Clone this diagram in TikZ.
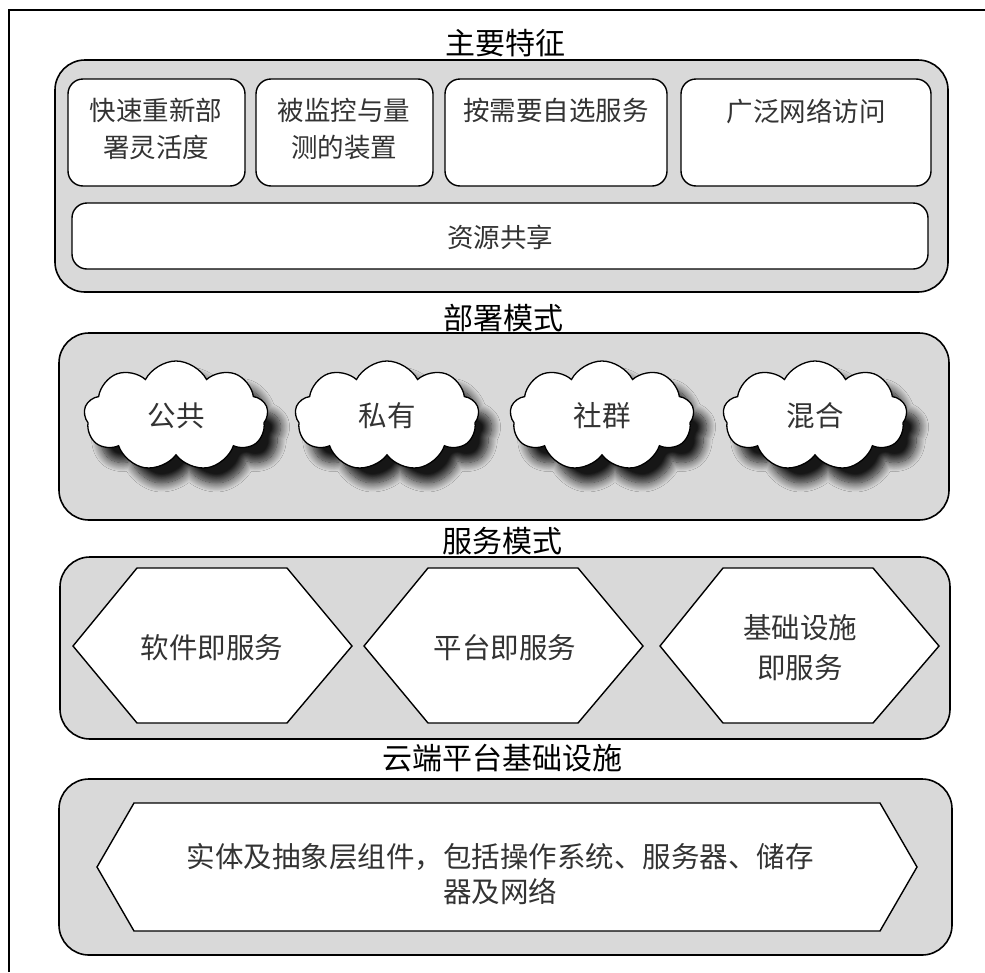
\documentclass[tikz,border=0pt]{standalone}
\usepackage{fontspec}
\setmainfont{Noto Sans CJK SC}
\usetikzlibrary{shapes.symbols,shadows.blur}
\definecolor{boxgray}{HTML}{D9D9D9}
\definecolor{txtgray}{HTML}{333333}
\tikzset{
  bigbox/.style={draw, line width=1.6pt, fill=boxgray, rounded corners=30pt, inner sep=0pt, outer sep=0pt, anchor=north west},
  smallbox/.style={draw, line width=1.4pt, fill=white, rounded corners=15pt, inner sep=0pt, outer sep=0pt, anchor=north west},
  title/.style={font=\fontsize{30pt}{34pt}\selectfont, text=black, inner sep=0pt},
  label/.style={font=\fontsize{26.5pt}{37pt}\selectfont, text=txtgray, inner sep=0pt, align=center},
  biglabel/.style={font=\fontsize{28.5pt}{40pt}\selectfont, text=txtgray, inner sep=0pt, align=center},
  cloudy/.style={cloud, draw, line width=1.3pt, fill=white, cloud puffs=9, cloud puff arc=125, aspect=1.7,
    minimum width=184pt, minimum height=110pt, inner sep=0pt,
    font=\fontsize{28.5pt}{32pt}\selectfont, text=txtgray,
    blur shadow={shadow xshift=13pt, shadow yshift=-15pt, shadow blur radius=9pt, shadow opacity=90, shadow blur steps=14}},
  hexa/.style={draw, line width=1.4pt, fill=white, line join=miter}
}
\begin{document}
\begin{tikzpicture}[x=1pt,y=-1pt]
\useasboundingbox (0,0) rectangle (985,972);
% outer frame
\draw[line width=1.5pt] (9,972) -- (9,10) -- (985,10);

% ---- main features
\node[title] (t1) at (505,43) {主要特征};
\node[bigbox, minimum width=893pt, minimum height=232pt] (b1) at (55,60) {};
\node[smallbox, minimum width=177pt, minimum height=107pt] (f1) at (68,79) {};
\node[smallbox, minimum width=177pt, minimum height=107pt] (f2) at (256,79) {};
\node[smallbox, minimum width=222pt, minimum height=107pt] (f3) at (445,79) {};
\node[smallbox, minimum width=250pt, minimum height=107pt] (f4) at (681,79) {};
\node[smallbox, minimum width=856pt, minimum height=66pt] (f5) at (72,203) {};
\node[label] (l1) at (156,129) {快速重新部\\署灵活度};
\node[label] (l2) at (344,129) {被监控与量\\测的装置};
\node[label] (l3) at (556,110) {按需要自选服务};
\node[label] (l4) at (806,111) {广泛网络访问};
\node[label] (l5) at (500,237) {资源共享};

% ---- deployment
\node[bigbox, minimum width=890pt, minimum height=187pt] (b2) at (59,333) {};
\node[title] (t2) at (503,318) {部署模式};
\node[cloudy] (c1) at (176,416) {公共};
\node[cloudy] (c2) at (387,416) {私有};
\node[cloudy] (c3) at (602,416) {社群};
\node[cloudy] (c4) at (815,416) {混合};

% ---- service models
\node[title] (t3) at (502,541) {服务模式};
\node[bigbox, minimum width=890pt, minimum height=182pt] (b3) at (60,557) {};
\draw[hexa] (73,646) -- (137,568) -- (287,568) -- (352,646) -- (287,723) -- (137,723) -- cycle;
\draw[hexa] (364,646) -- (428,568) -- (578,568) -- (643,646) -- (578,723) -- (428,723) -- cycle;
\draw[hexa] (660,646) -- (723,568) -- (873,568) -- (939,646) -- (873,723) -- (723,723) -- cycle;
\node[biglabel] (s1) at (212,648) {软件即服务};
\node[biglabel] (s2) at (505,648) {平台即服务};
\node[biglabel] (s3) at (800,648) {基础设施\\即服务};

% ---- infrastructure
\node[title] (t4) at (502,758) {云端平台基础设施};
\node[bigbox, minimum width=893pt, minimum height=176pt] (b4) at (59,779) {};
\draw[hexa] (97,867) -- (134,803) -- (880,803) -- (917,867) -- (880,931) -- (134,931) -- cycle;
\node[biglabel, font=\fontsize{28.5pt}{35pt}\selectfont] (i1) at (500,874) {实体及抽象层组件，包括操作系统、服务器、储存\\器及网络};
\end{tikzpicture}
\end{document}
